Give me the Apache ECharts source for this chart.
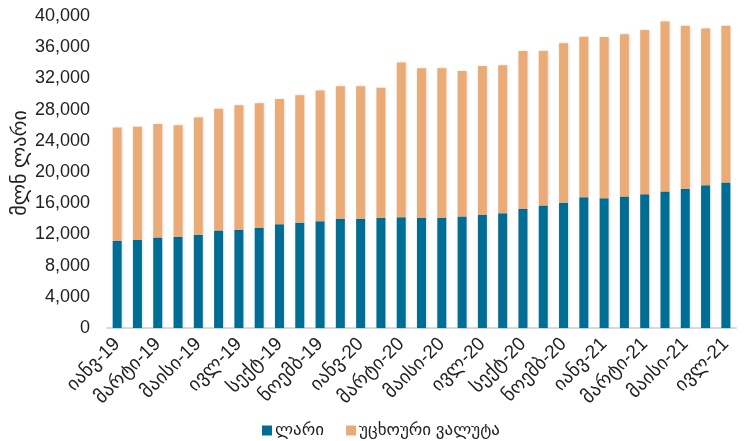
<!DOCTYPE html>
<html>
<head>
<meta charset="utf-8">
<script src="https://cdn.jsdelivr.net/npm/echarts@6/dist/echarts.min.js"></script>
<style>
html,body{margin:0;padding:0;background:#fff;}
#chart{width:744px;height:441px;}
</style>
</head>
<body>
<div id="chart"></div>
<script>
const categories = ["იანვ-19","თებ-19","მარტი-19","აპრ-19","მაისი-19","ივნ-19","ივლ-19","აგვ-19","სექტ-19","ოქტ-19","ნოემბ-19","დეკ-19",
  "იანვ-20","თებ-20","მარტი-20","აპრ-20","მაისი-20","ივნ-20","ივლ-20","აგვ-20","სექტ-20","ოქტ-20","ნოემბ-20","დეკ-20",
  "იანვ-21","თებ-21","მარტი-21","აპრ-21","მაისი-21","ივნ-21","ივლ-21"];
const totals = [25700,25800,26150,26000,27000,28100,28550,28800,29350,29850,30450,31000,
  31000,30800,34050,33300,33300,32950,33600,33700,35500,35500,36500,37350,
  37300,37650,38200,39300,38750,38400,38750];
const lari = [11200,11300,11600,11700,11950,12500,12600,12850,13300,13500,13700,14000,
  14000,14100,14200,14150,14150,14300,14500,14700,15250,15700,16050,16750,
  16650,16850,17150,17500,17850,18300,18650];
const foreign = totals.map((t,i)=>t-lari[i]);
const seriesNames = ["ლარი","უცხოური ვალუტა"];
const yTitle = "მლნ ლარი";

const font = "'Liberation Sans', Arial, 'DejaVu Sans', sans-serif";
const chart = echarts.init(document.getElementById('chart'), null, {renderer:'canvas'});
chart.setOption({
  animation:false,
  backgroundColor:'#ffffff',
  textStyle:{fontFamily:font},
  grid:{left:107,right:8,top:16,bottom:113,containLabel:false},
  graphic:[{
    type:'text',x:20,y:163,rotation:Math.PI/2,
    style:{text:yTitle,font:"20px 'Liberation Sans', 'DejaVu Sans', sans-serif",fill:'#222',
      textAlign:'center',textVerticalAlign:'middle'}
  }],
  legend:{
    top:417,left:257,itemWidth:10,itemHeight:10,itemGap:22,icon:'rect',
    textStyle:{fontSize:17,color:'#222',fontFamily:font,padding:[0,0,0,-2]},
    data:seriesNames
  },
  xAxis:{
    type:'category',data:categories,
    axisLine:{lineStyle:{color:'#d9d9d9',width:2}},
    axisTick:{show:false},
    axisLabel:{interval:1,rotate:45,fontSize:19,color:'#222',margin:13,fontFamily:font}
  },
  yAxis:{
    type:'value',min:0,max:40000,interval:4000,
    axisLine:{show:false},axisTick:{show:false},
    splitLine:{show:false},
    axisLabel:{fontSize:18,color:'#222',margin:17,fontFamily:font,
      formatter:v=>v.toLocaleString('en-US')}
  },
  series:[
    {name:seriesNames[0],type:'bar',stack:'t',data:lari,barWidth:9,
      itemStyle:{color:'#006E94',shadowColor:'rgba(0,0,0,0.15)',shadowBlur:3,shadowOffsetX:1}},
    {name:seriesNames[1],type:'bar',stack:'t',data:foreign,barWidth:9,
      itemStyle:{color:'#EBAB77',shadowColor:'rgba(0,0,0,0.15)',shadowBlur:3,shadowOffsetX:1}}
  ]
});
</script>
</body>
</html>
